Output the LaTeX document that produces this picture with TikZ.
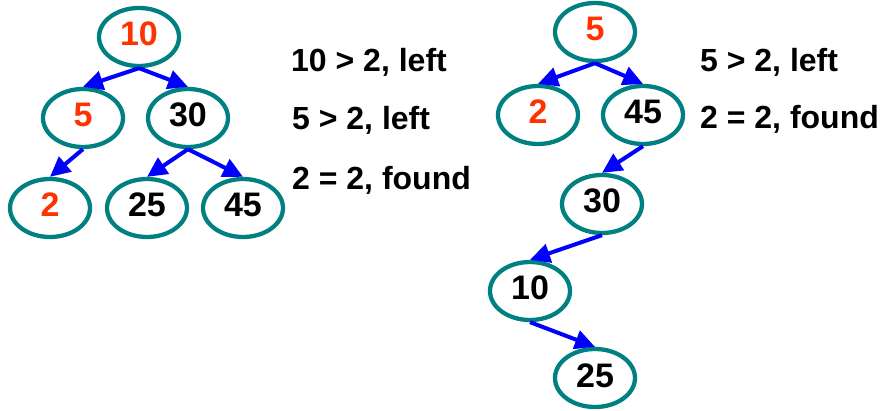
\documentclass[tikz,border=0pt]{standalone}
\usepackage{fontspec}
\setmainfont{Liberation Sans}
\usetikzlibrary{shapes.geometric,arrows.meta}
\definecolor{ringteal}{HTML}{008080}
\definecolor{hotred}{HTML}{FF3300}
\definecolor{arrblue}{HTML}{0000FF}
\begin{document}
\begin{tikzpicture}[x=1pt,y=-1pt,
  treenode/.style={ellipse,draw=ringteal,line width=4.3pt,minimum width=80pt,minimum height=58pt,
    inner sep=0pt,font=\fontsize{34}{38}\selectfont\bfseries,text height=24pt,text depth=6pt},
  hit/.style={text=hotred},
  arr/.style={draw=arrblue,line width=4pt,-{Triangle[length=20pt,width=19pt]}},
  note/.style={anchor=base west,inner sep=0pt,font=\fontsize{32}{36}\selectfont\bfseries}]
\useasboundingbox (0,0) rectangle (883,411);
% left tree
\node[treenode,hit] (a10) at (139,37) {10};
\node[treenode,hit] (a5) at (83,118) {5};
\node[treenode] (a30) at (188,118) {30};
\node[treenode,hit] (a2) at (50,208) {2};
\node[treenode] (a25) at (147,208) {25};
\node[treenode] (a45) at (243,208) {45};
\draw[arr] (a10.south) -- (a5.north);
\draw[arr] (a10.south) -- (a30.north);
\draw[arr] (a5.south) -- (a2.north);
\draw[arr] (a30.south) -- (a25.north);
\draw[arr] (a30.south) -- (a45.north);
\node[note] (t1) at (291,71.5) {10 > 2, left};
\node[note] (t2) at (292,129.5) {5 > 2, left};
\node[note] (t3) at (292,189.5) {2 = 2, found};
% right tree
\node[treenode,hit] (b5) at (595,32) {5};
\node[treenode,hit] (b2) at (538,115) {2};
\node[treenode] (b45) at (643,115) {45};
\node[treenode] (b30) at (602,204) {30};
\node[treenode] (b10) at (530,291) {10};
\node[treenode] (b25) at (595,378) {25};
\draw[arr] (b5.south) -- (b2.north);
\draw[arr] (b5.south) -- (b45.north);
\draw[arr] (b45.south) -- (b30.north);
\draw[arr] (b30.south) -- (b10.north);
\draw[arr] (b10.south) -- (b25.north);
\node[note] (u1) at (700,71.5) {5 > 2, left};
\node[note] (u2) at (700,128.5) {2 = 2, found};
\end{tikzpicture}
\end{document}
